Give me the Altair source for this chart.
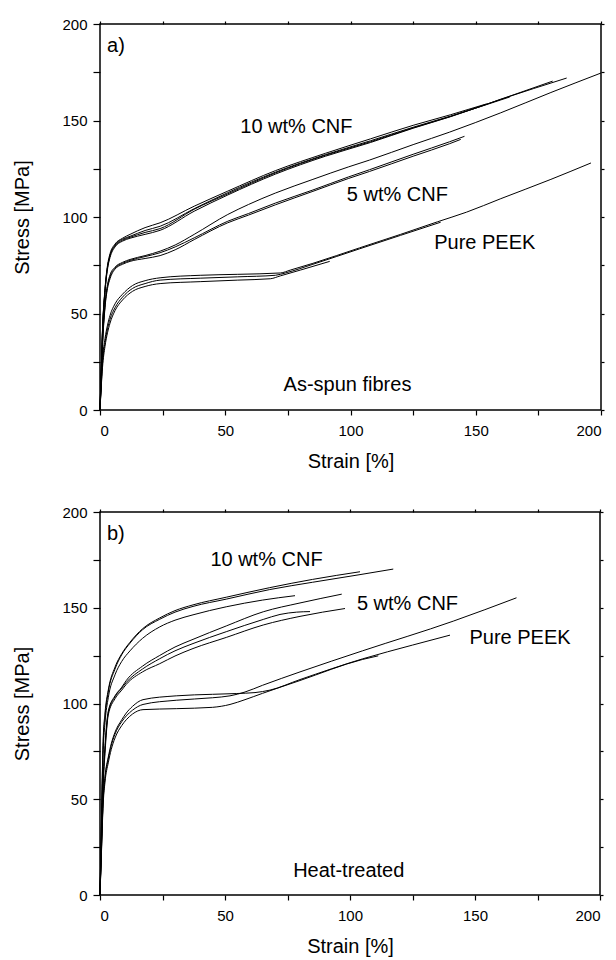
import altair as alt
import pandas as pd

# ---------------- Panel a) As-spun fibres ----------------
A10_1_X = [0, 0.5, 1, 2, 3, 4, 6, 9, 12, 18, 24, 37.6, 51, 70, 90, 108, 125, 140, 154.3]
A10_1_Y = [0, 22, 42, 63, 75, 81, 86, 89, 91, 94.5, 97, 105.6, 113.4, 124, 133, 140.5, 147.5, 153, 158.6]
A10_2_X = [0, 0.5, 1, 2, 3, 4, 6, 9, 12, 18, 24, 37.6, 51, 70, 90, 108, 125, 140, 163.6]
A10_2_Y = [0, 21, 41, 62, 74, 80, 85.5, 88.5, 90, 93, 95.2, 104.3, 112.6, 123.2, 132.3, 139.5, 146.5, 152.3, 162.2]
A10_3_X = [0, 0.5, 1, 2, 3, 4, 6, 9, 12, 18, 24, 37.6, 51, 70, 90, 108, 125, 140, 160, 180.7]
A10_3_Y = [0, 20, 40, 61, 73, 79, 84.5, 87.5, 89, 91, 93.1, 103, 111.4, 122.2, 131.5, 138.6, 146, 152, 161, 170.4]
A10_4_X = [0, 0.5, 1, 2, 3, 4, 6, 9, 12, 18, 24, 37.6, 51, 70, 90, 108, 125, 140, 160, 186.3]
A10_4_Y = [0, 21, 41, 62, 74, 80, 85, 88, 89.5, 92, 94, 104, 112, 122.8, 132, 139, 146.2, 152.1, 161, 172]

A5_L_X = [0, 0.5, 1, 2, 3, 4, 6, 9, 12, 18, 24, 30, 37.6, 51, 59.3, 70, 85, 99.3, 107.6, 125, 139.6, 160, 180, 200]
A5_L_Y = [0, 18, 35, 55, 65, 70, 74, 76.5, 78, 80, 82.3, 85.5, 91, 101.3, 106.5, 112.4, 119.5, 126, 129.5, 137.5, 144, 154, 164.5, 174.6]
A5_1_X = [0, 0.5, 1, 2, 3, 4, 6, 9, 12, 18, 24, 30, 37.6, 51, 59.3, 70, 85, 99.3, 107.6, 125, 139.6, 145.5]
A5_1_Y = [0, 17, 34, 54, 64, 69, 73.5, 76, 77.5, 79.5, 81.5, 84.5, 89.2, 97.8, 101.8, 107.2, 114, 120.8, 124.5, 132.5, 139, 141.8]
A5_2_X = [0, 0.5, 1, 2, 3, 4, 6, 9, 12, 18, 24, 30, 37.6, 51, 59.3, 70, 85, 99.3, 107.6, 125, 139.6, 144]
A5_2_Y = [0, 16, 33, 53, 63, 68, 73, 75.5, 77, 78.5, 80, 83, 88.3, 97, 101, 106.3, 113.3, 120, 123.6, 131.5, 138, 140.2]

AP1_X = [0, 0.5, 1, 2, 3, 4, 6, 9, 13, 18, 24, 40, 55, 68, 72, 80, 91.7]
AP1_Y = [0, 12, 22, 33, 40, 45, 51.5, 57, 61.5, 64, 65.5, 66.5, 67.3, 68, 69.5, 72.5, 77]
AP2_X = [0, 0.5, 1, 2, 3, 4, 6, 9, 13, 18, 24, 40, 55, 70, 74, 85, 103.6, 120, 136]
AP2_Y = [0, 13, 24, 35, 42, 47, 53, 58.5, 63, 65.5, 67.3, 68.3, 69, 69.8, 71, 75.5, 83.5, 90.5, 97.3]
AP3_X = [0, 0.5, 1, 2, 3, 4, 6, 9, 13, 18, 24, 40, 55, 72, 76, 85, 103.6, 120, 134.7, 146.3, 160, 180, 196]
AP3_Y = [0, 14, 26, 37, 44, 49, 55, 60, 64.5, 67, 68.5, 69.8, 70.3, 71, 72.5, 76, 84, 91, 97.5, 102.5, 109.5, 119.5, 128]

# ---------------- Panel b) Heat-treated ----------------
B10_1_X = [0, 0.5, 1.3, 2, 3.3, 6, 8.7, 12, 17, 23.9, 30, 37.2, 50.5, 67.9, 85, 104, 117.3]
B10_1_Y = [0, 33, 80, 93, 106, 118, 125.5, 131.5, 138.5, 144, 147.7, 150.7, 154.5, 159.5, 163.3, 167.3, 170.2]
B10_2_X = [0, 0.5, 1.3, 2, 3.3, 6, 8.7, 12, 17, 23.9, 30, 37.2, 50.5, 67.9, 85, 104]
B10_2_Y = [0, 35, 82, 95, 107, 119, 126, 132, 139, 144.7, 148.5, 151.5, 155.5, 160.5, 164.8, 168.8]
B10_3_X = [0, 0.5, 1.3, 2, 3.3, 6, 8.7, 12, 17, 23.9, 30, 37.2, 50.5, 65, 78]
B10_3_Y = [0, 30, 76, 90, 103, 115, 122, 127.5, 134, 140, 143.5, 146.3, 150.5, 154, 156.3]

B5_1_X = [0, 0.5, 1.3, 2, 3.3, 6, 8.7, 10.5, 17, 23.9, 30, 37.2, 50.5, 65.3, 80, 96.7]
B5_1_Y = [0, 25, 62, 78, 96, 104, 108.5, 112, 119.5, 125.1, 129.5, 133.5, 140.5, 147.9, 152.5, 157.1]
B5_2_X = [0, 0.5, 1.3, 2, 3.3, 6, 8.7, 10.5, 17, 23.9, 30, 37.2, 50.5, 65.3, 72, 78.6, 84]
B5_2_Y = [0, 24, 60, 76, 95, 103.5, 108, 111, 118, 123.4, 127.5, 131.3, 137.5, 143.9, 146.5, 147.7, 148]
B5_3_X = [0, 0.5, 1.3, 2, 3.3, 6, 8.7, 10.5, 17, 23.9, 30, 37.2, 50.5, 65.3, 80, 98]
B5_3_Y = [0, 23, 58, 74, 94, 102.5, 107, 110, 116.5, 120.8, 124.8, 128.7, 134.5, 141, 145.5, 149.6]

BP1_X = [0, 0.5, 1.3, 2, 3.3, 4.5, 6, 8.7, 10.5, 13, 17.2, 30.5, 45, 52, 58, 65, 80, 105, 141.3, 166.6]
BP1_Y = [0, 20, 50, 61, 71, 78, 84, 90.5, 93.5, 96.5, 99.5, 101.7, 103, 104, 106, 109.5, 116.5, 127.5, 143, 155.2]
BP2_X = [0, 0.5, 1.3, 2, 3.3, 4.5, 6, 8.7, 10.5, 13, 17.2, 30.5, 45, 54.5, 62, 68, 80, 105, 125, 140]
BP2_Y = [0, 21, 51, 62, 72, 79, 85, 91.5, 95, 98.5, 102, 104, 104.8, 105.2, 105.7, 107, 112.5, 123.3, 130.5, 135.7]
BP3_X = [0, 0.5, 1.3, 2, 3.3, 4.5, 6, 8.7, 10.5, 13, 17.2, 30.5, 45, 52, 58, 65, 80, 105, 111.3]
BP3_Y = [0, 19, 48, 59, 69, 76, 82, 88.5, 91.5, 94.5, 96.8, 97.3, 98, 99.5, 102, 105.3, 112, 123, 124.9]

# ---------------- Annotations ----------------
ANN_A_TEXT = ["10 wt% CNF", "5 wt% CNF", "Pure PEEK", "As-spun fibres"]
ANN_A_X = [78.4, 118.7, 153.6, 98.8]
ANN_A_Y = [146.5, 111.2, 86.3, 13.0]
ANN_B_TEXT = ["10 wt% CNF", "5 wt% CNF", "Pure PEEK", "Heat-treated"]
ANN_B_X = [66.6, 123.0, 168.0, 99.5]
ANN_B_Y = [174.8, 151.7, 134.0, 12.7]
TAG_A = ["a)"]
TAG_B = ["b)"]
TAG_X = [2.8]
TAG_Y = [188.5]

TICKS = [0, 25, 50, 75, 100, 125, 150, 175, 200]
FONT = "Liberation Sans"

curves_a = [
    ("a10_1", A10_1_X, A10_1_Y), ("a10_2", A10_2_X, A10_2_Y),
    ("a10_3", A10_3_X, A10_3_Y), ("a10_4", A10_4_X, A10_4_Y),
    ("a5_L", A5_L_X, A5_L_Y), ("a5_1", A5_1_X, A5_1_Y), ("a5_2", A5_2_X, A5_2_Y),
    ("ap1", AP1_X, AP1_Y), ("ap2", AP2_X, AP2_Y), ("ap3", AP3_X, AP3_Y),
]
curves_b = [
    ("b10_1", B10_1_X, B10_1_Y), ("b10_2", B10_2_X, B10_2_Y), ("b10_3", B10_3_X, B10_3_Y),
    ("b5_1", B5_1_X, B5_1_Y), ("b5_2", B5_2_X, B5_2_Y), ("b5_3", B5_3_X, B5_3_Y),
    ("bp1", BP1_X, BP1_Y), ("bp2", BP2_X, BP2_Y), ("bp3", BP3_X, BP3_Y),
]


def curves_df(curves):
    rows = []
    for name, xs, ys in curves:
        for i, (x, y) in enumerate(zip(xs, ys)):
            rows.append({"curve": name, "idx": i, "strain": x, "stress": y})
    return pd.DataFrame(rows)


label_expr = "datum.value % 50 == 0 ? datum.label : ''"


def panel(curves, texts, tx, ty, tag, w, h):
    df = curves_df(curves)
    ann = pd.DataFrame({"t": texts, "x": tx, "y": ty})
    tagdf = pd.DataFrame({"t": tag, "x": TAG_X, "y": TAG_Y})
    xs = alt.Scale(domain=[0, 200], nice=False, zero=False)
    ys = alt.Scale(domain=[0, 200], nice=False, zero=False)

    lines = alt.Chart(df).mark_line(
        color="black", strokeWidth=1, interpolate="monotone"
    ).encode(
        x=alt.X("strain:Q", scale=xs, axis=alt.Axis(
            orient="bottom", values=TICKS, labelExpr=label_expr, title="Strain [%]",
            tickSize=5, labelPadding=8, titlePadding=13, grid=False, domain=False,
        )),
        y=alt.Y("stress:Q", scale=ys, axis=alt.Axis(
            orient="left", values=TICKS, labelExpr=label_expr, title="Stress [MPa]",
            tickSize=7, labelPadding=6, titlePadding=29, grid=False, domain=False,
        )),
        detail="curve:N",
        order="idx:Q",
    )
    frame = alt.Chart(ann).mark_point(opacity=0).encode(
        x=alt.X("x:Q", scale=xs, axis=alt.Axis(
            orient="top", values=TICKS, labels=False, title=None, tickSize=3,
            grid=False, domain=False)),
        y=alt.Y("y:Q", scale=ys, axis=alt.Axis(
            orient="right", values=TICKS, labels=False, title=None, tickSize=3,
            grid=False, domain=False)),
    )
    text = alt.Chart(ann).mark_text(
        font=FONT, fontSize=20, color="black", align="center", baseline="middle"
    ).encode(
        x=alt.X("x:Q", scale=xs, axis=None),
        y=alt.Y("y:Q", scale=ys, axis=None),
        text="t:N",
    )
    tagtext = alt.Chart(tagdf).mark_text(
        font=FONT, fontSize=20, color="black", align="left", baseline="middle"
    ).encode(
        x=alt.X("x:Q", scale=xs, axis=None),
        y=alt.Y("y:Q", scale=ys, axis=None),
        text="t:N",
    )
    return alt.layer(lines, frame, text, tagtext).resolve_axis(
        x="independent", y="independent"
    ).properties(width=w, height=h)


pa = panel(curves_a, ANN_A_TEXT, ANN_A_X, ANN_A_Y, TAG_A, 501, 386)
pb = panel(curves_b, ANN_B_TEXT, ANN_B_X, ANN_B_Y, TAG_B, 500, 383)

chart = alt.vconcat(pa, pb, spacing=32).properties(
    padding={"left": 4, "top": 8, "right": 2, "bottom": 0},
    background="white",
).configure_view(
    stroke="black", strokeWidth=1.5
).configure_axis(
    labelFont=FONT, titleFont=FONT, labelFontSize=15, titleFontSize=20,
    titleFontWeight="normal", labelColor="black", titleColor="black",
    tickColor="black", tickWidth=1.2,
)

chart.save("out.html", embed_options={"renderer": "svg", "actions": False})
